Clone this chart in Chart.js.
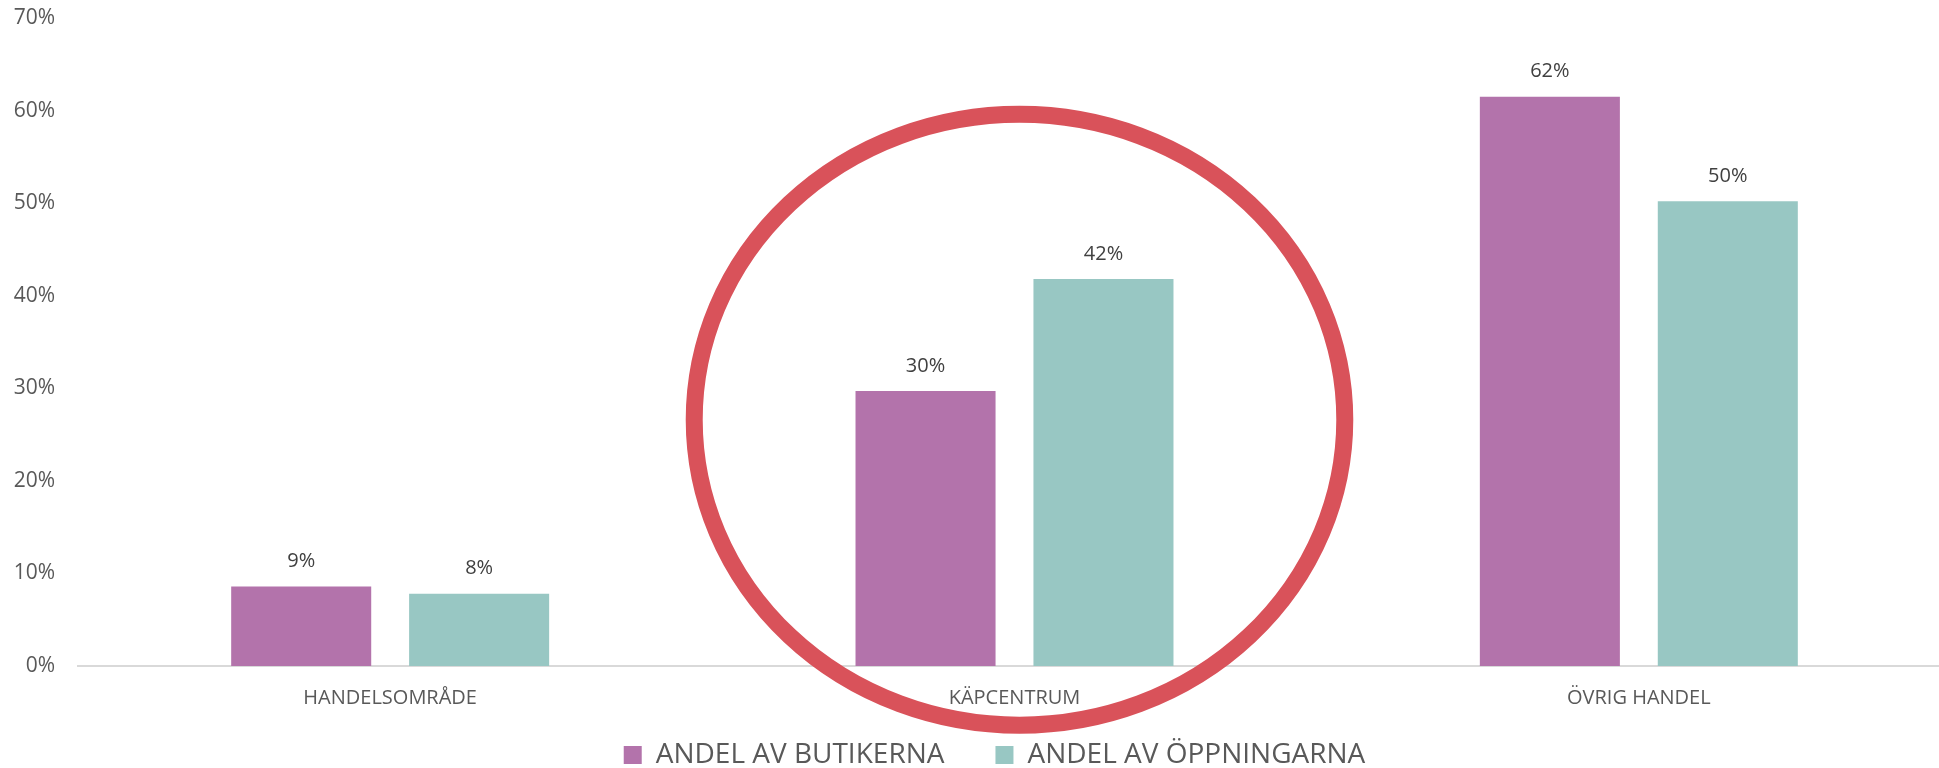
<!DOCTYPE html>
<html>
<head>
<meta charset="utf-8">
<script src="https://cdn.jsdelivr.net/npm/chart.js@4.4.1/dist/chart.umd.min.js"></script>
<style>
  html, body { margin: 0; padding: 0; background: #fff; }
  #wrap { width: 1939px; height: 768px; overflow: hidden; position: relative; }
  #wrap canvas { position: absolute; left: 0; top: 0; }
</style>
</head>
<body>
<div id="wrap">
  <canvas id="chart" width="1989" height="779"></canvas>
</div>
<script>
const categories = ["HANDELSOMRÅDE", "KÄPCENTRUM", "ÖVRIG HANDEL"];
const seriesNames = ["ANDEL AV BUTIKERNA", "ANDEL AV ÖPPNINGARNA"];
const butikerna = [8.6, 29.7, 61.5];
const oppningarna = [7.8, 41.8, 50.2];
const valueLabels = [["9%", "30%", "62%"], ["8%", "42%", "50%"]];
const yMax = 70;
const yStep = 10;
const highlighted = "KÄPCENTRUM";

Chart.defaults.font.family = "'Open Sans', sans-serif";

// value labels above each bar
const barLabels = {
  id: "barLabels",
  afterDatasetsDraw(chart) {
    const ctx = chart.ctx;
    ctx.save();
    ctx.font = "20px 'Open Sans'";
    ctx.fillStyle = "#404040";
    ctx.textAlign = "center";
    ctx.textBaseline = "middle";
    chart.data.datasets.forEach((ds, di) => {
      chart.getDatasetMeta(di).data.forEach((bar, i) => {
        ctx.fillText(valueLabels[di][i], bar.x, bar.y - 25);
      });
    });
    ctx.restore();
  }
};

// red ring round the highlighted category
const ring = {
  id: "ring",
  afterDraw(chart) {
    const x = chart.scales.x, y = chart.scales.y;
    const idx = categories.indexOf(highlighted);
    const catW = x.getPixelForValue(1) - x.getPixelForValue(0);
    const cx = x.getPixelForValue(idx) + 5;
    const cy = y.getPixelForValue(26.6);
    const rx = catW * 0.521;
    const ry = y.getPixelForValue(0) - y.getPixelForValue(33);
    const ctx = chart.ctx;
    ctx.save();
    ctx.beginPath();
    ctx.ellipse(cx, cy, rx, ry, 0, 0, Math.PI * 2);
    ctx.lineWidth = 17;
    ctx.strokeStyle = "#d9525a";
    ctx.stroke();
    ctx.restore();
  }
};

// let tick labels spill outside the (squeezed) axis boxes
const noClip = scale => { scale._computeLabelArea = () => null; };

new Chart(document.getElementById("chart"), {
  type: "bar",
  data: {
    labels: categories,
    datasets: [
      {
        label: seriesNames[0],
        data: butikerna,
        backgroundColor: "#b373ab",
        categoryPercentage: 0.57,
        barPercentage: 0.787
      },
      {
        label: seriesNames[1],
        data: oppningarna,
        backgroundColor: "#98c7c3",
        categoryPercentage: 0.57,
        barPercentage: 0.787
      }
    ]
  },
  options: {
    responsive: false,
    animation: false,
    events: [],
    layout: { padding: { top: 18, left: 38, right: 38, bottom: 0 } },
    plugins: {
      tooltip: { enabled: false },
      legend: {
        position: "bottom",
        labels: {
          boxWidth: 18,
          boxHeight: 18,
          padding: 51,
          color: "#595959",
          font: { size: 28 }
        }
      }
    },
    scales: {
      x: {
        grid: { display: false, drawTicks: false },
        border: { display: true, color: "#d9d9d9", width: 2 },
        ticks: { color: "#595959", font: { size: 20 }, padding: 20 },
        afterFit(scale) { scale.height = 24; noClip(scale); }
      },
      y: {
        min: 0,
        max: yMax,
        grid: { display: false, drawTicks: false },
        border: { display: false },
        ticks: {
          stepSize: yStep,
          color: "#595959",
          font: { size: 21 },
          padding: 23,
          callback: v => v + "%"
        },
        afterFit(scale) {
          scale.width = 40;
          scale.paddingTop = 0;
          scale.paddingBottom = 0;
          noClip(scale);
        }
      }
    }
  },
  plugins: [barLabels, ring]
});
</script>
</body>
</html>
